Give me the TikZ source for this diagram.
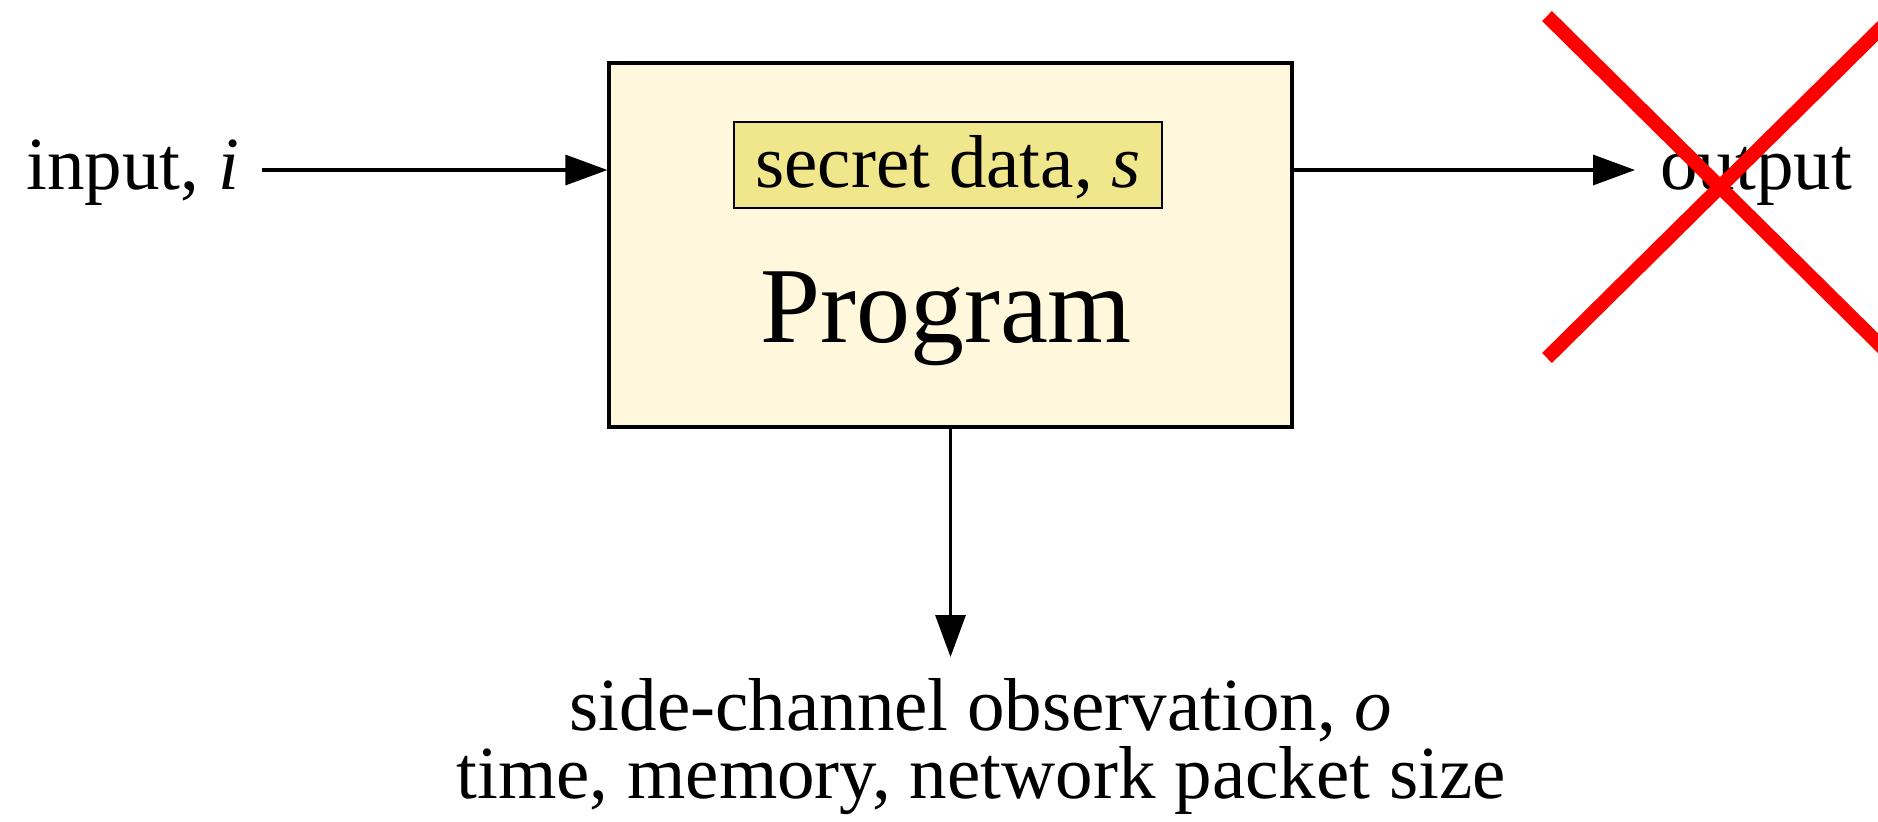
\documentclass[tikz,border=0pt]{standalone}
\usepackage{fontspec}
\setmainfont{Liberation Serif}
\usetikzlibrary{arrows.meta}
\definecolor{progfill}{HTML}{FFF8DC}
\definecolor{secfill}{HTML}{F0E68C}
\newcommand\fmain{\fontsize{37.5pt}{34pt}\selectfont}
\newcommand\fbig{\fontsize{54pt}{60pt}\selectfont}
\begin{document}
\begin{tikzpicture}[x=0.5pt,y=-0.5pt,
  conn/.style={line width=1.6pt,-{Triangle[length=21pt,width=15pt]}},
  lbl/.style={font=\fmain, text height=27pt, text depth=8pt, inner ysep=0pt},
  ]
\useasboundingbox (0,0) rectangle (1878,821);
\node[draw, line width=1.6pt, fill=progfill, minimum width=341.5pt, minimum height=182pt, inner sep=0] (prog) at (950.5,245) {};
\node[draw, line width=1.4pt, fill=secfill, minimum width=214pt, minimum height=43pt, inner sep=2pt, font=\fmain, text height=30pt, text depth=8pt] (secret) at (948,165) {secret data, \textit{s}};
\node[font=\fbig, anchor=base, inner sep=0] (progtext) at (946,342) {Program};
\node[lbl, anchor=base west, inner xsep=11.5pt] (input) at (3,189) {input, \textit{i}};
\node[lbl, anchor=base west, inner xsep=12.5pt] (output) at (1635,189) {output};
\node[font=\fmain, align=center, anchor=north, inner xsep=0pt, inner ysep=10.5pt] (obs) at (981,657) {side-channel observation, \textit{o}\\time, memory, network packet size};
\draw[conn] (input.east) -- (prog.west |- input.east);
\draw[conn] (prog.east |- output.west) -- (output.west);
\draw[conn] (prog.south) -- (prog.south |- obs.north);
\begin{scope}
\clip (0,0) rectangle (1878,821);
\draw[red, line width=7pt] (1547,16) -- (1893,358) (1547,358) -- (1893,16);
\end{scope}
\end{tikzpicture}
\end{document}
